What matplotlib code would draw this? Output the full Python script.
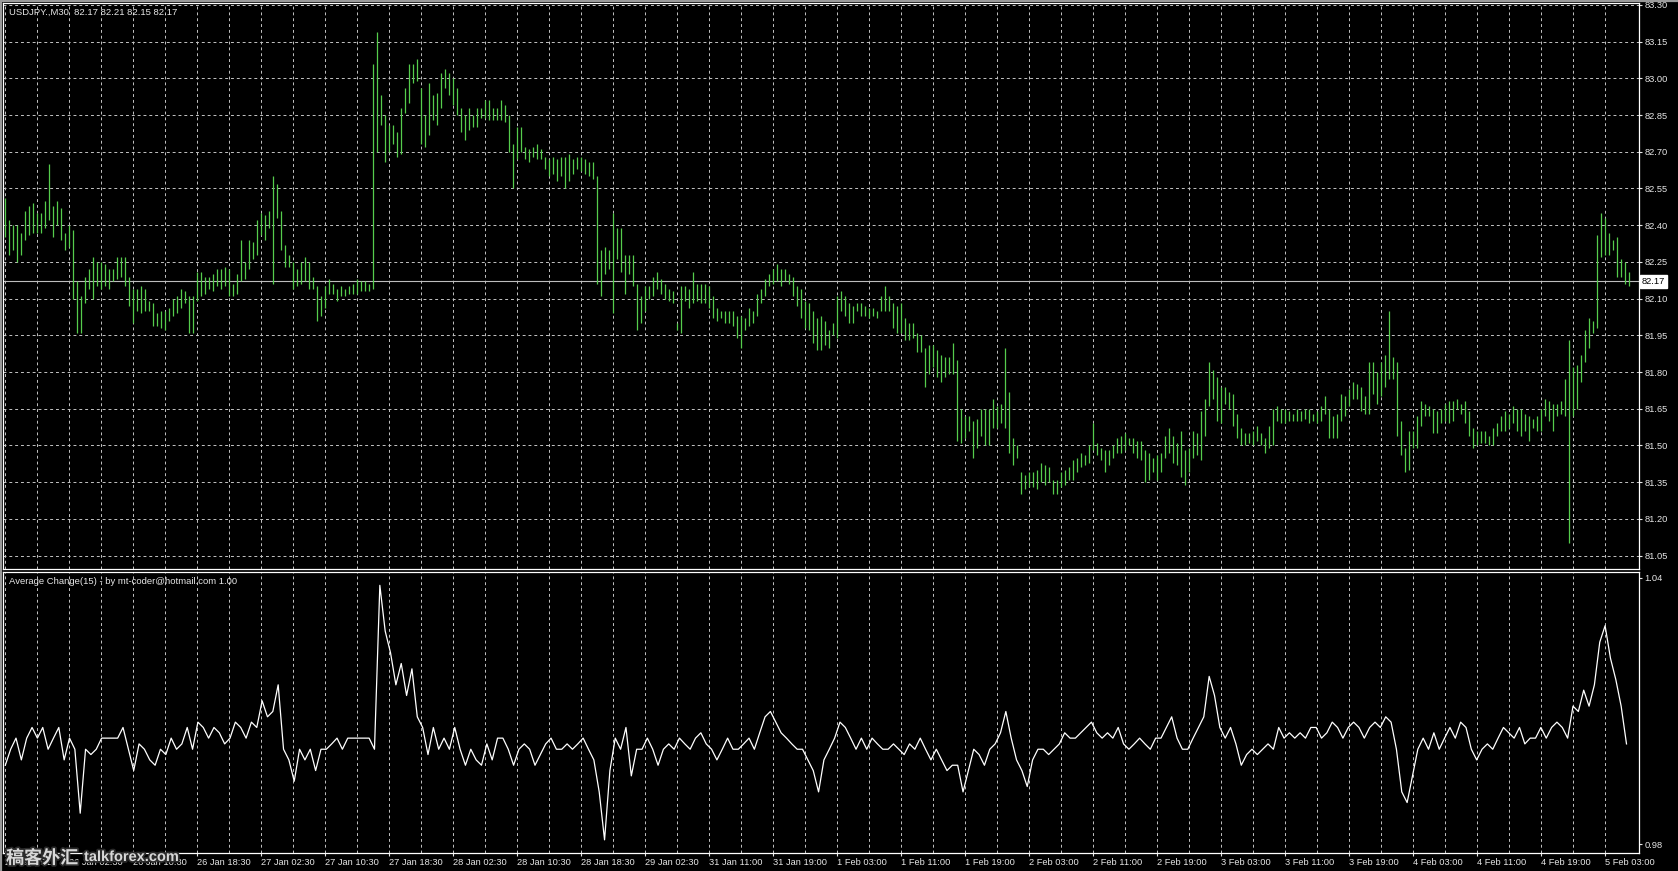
import numpy as np
import matplotlib.pyplot as plt
import matplotlib.patheffects as pe
from matplotlib.transforms import blended_transform_factory
from matplotlib.lines import Line2D

# USDJPY., M30 bar chart + "Average Change(15)" sub window (MetaTrader 4)
# high / low of each bar in pips above 81.00
BASE = 81.00

bars_jan25 = [  # bars 0-101
    (151,135),(142,128),(140,130),(140,125),(137,128),
    (146,134),(148,136),(149,137),(145,137),(145,137),
    (150,139),(165,142),(148,135),(150,140),(147,134),
    (137,130),(140,131),(138,110),(117,96),(111,96),
    (119,108),(122,114),(127,110),(125,115),(125,114),
    (124,115),(122,114),(122,117),(127,118),(127,119),
    (127,115),(119,107),(114,100),(114,105),(115,104),
    (114,105),(109,105),(108,99),(104,99),(105,98),
    (105,97),(106,101),(110,103),(111,104),(114,106),
    (113,108),(111,96),(111,96),(121,109),(121,111),
    (119,112),(119,114),(120,113),(122,115),(122,114),
    (123,115),(122,111),(116,111),(120,112),(134,117),
    (125,118),(134,122),(133,126),(142,128),(145,136),
    (144,134),(146,139),(160,116),(157,143),(146,130),
    (132,123),(128,123),(125,114),(122,115),(125,116),
    (127,117),(125,114),(119,114),(115,101),(111,103),
    (115,106),(118,112),(116,112),(114,109),(115,111),
    (114,111),(115,112),(116,112),(118,112),(117,113),
    (117,113),(116,113),(206,114),(219,170),(193,181),
    (185,166),(181,170),(181,173),(178,168),(188,169),
    (196,186),(206,190)]

bars_jan28 = [  # bars 102-203
    (206,198),(208,199),(196,173),(185,172),(198,177),
    (193,183),(194,181),(202,188),(204,196),(202,193),
    (200,189),(196,185),(188,178),(185,175),(188,179),
    (185,180),(188,180),(188,184),(191,184),(191,183),
    (188,183),(188,183),(191,183),(189,182),(185,170),
    (173,155),(180,167),(180,170),(172,167),(171,166),
    (172,168),(173,167),(171,167),(168,163),(167,160),
    (168,161),(167,158),(168,160),(168,155),(169,158),
    (167,161),(168,163),(168,162),(167,161),(166,160),
    (166,159),(160,116),(130,111),(131,120),(130,122),
    (145,104),(139,126),(139,121),(128,112),(128,120),
    (128,115),(116,97),(111,100),(115,105),(115,110),
    (119,111),(121,114),(118,112),(116,110),(114,109),
    (113,108),(100,97),(115,96),(115,109),(114,106),
    (121,108),(116,109),(116,108),(116,108),(115,106),
    (111,102),(106,101),(105,102),(105,100),(105,100),
    (105,99),(103,94),(103,90),(102,97),(106,99),
    (105,100),(112,103),(114,108),(118,111),(120,115),
    (122,116),(124,117),(122,115),(122,117),(120,116),
    (119,111),(115,107),(114,102),(109,98),(108,97),
    (105,92),(102,89)]

bars_feb01 = [  # bars 204-306
    (103,89),(101,91),(97,90),(100,95),(111,94),
    (113,105),(111,103),(108,100),(107,100),(108,105),
    (108,103),(107,103),(106,102),(106,103),(105,102),
    (111,105),(115,105),(111,105),(108,98),(107,96),
    (108,96),(102,93),(100,93),(100,94),(96,88),
    (95,88),(90,74),(91,79),(91,82),(89,78),
    (87,76),(86,78),(86,79),(92,79),(85,52),
    (65,51),(62,53),(62,56),(60,45),(61,49),
    (65,54),(65,50),(65,50),(69,57),(66,57),
    (67,59),(90,57),(72,47),(53,42),(50,45),
    (39,30),(38,32),(39,33),(39,33),(40,32),
    (43,35),(42,34),(41,35),(36,30),(36,30),
    (39,33),(40,34),(41,36),(44,36),(45,39),
    (47,41),(46,42),(50,43),(59,48),(51,46),
    (49,44),(48,39),(48,42),(50,45),(53,47),
    (54,47),(55,48),(53,50),(53,47),(52,45),
    (52,44),(48,35),(47,36),(45,39),(46,36),
    (47,39),(54,45),(57,47),(54,43),(51,42),
    (56,37),(48,34),(49,39),(56,45),(55,46),
    (64,44),(69,54),(84,66),(81,69),(78,60),
    (74,59),(74,67),(72,65)]

bars_feb03 = [  # bars 307-406
    (71,58),(63,53),(57,50),(55,50),(55,51),
    (56,50),(58,52),(55,50),(53,47),(58,49),
    (65,50),(66,60),(65,59),(65,59),(64,60),
    (63,60),(65,60),(64,60),(65,61),(65,59),
    (63,60),(64,59),(66,60),(70,63),(65,53),
    (62,53),(63,53),(71,60),(70,62),(73,66),
    (76,69),(75,69),(74,64),(70,63),(84,63),
    (84,71),(80,67),(84,70),(87,74),(105,77),
    (86,77),(84,54),(60,46),(49,39),(56,40),
    (56,49),(62,49),(68,58),(67,62),(66,62),
    (65,55),(64,55),(65,59),(67,60),(68,59),
    (68,60),(69,65),(67,63),(68,59),(64,54),
    (57,49),(56,50),(56,51),(56,51),(54,50),
    (57,50),(59,54),(62,56),(64,56),(63,57),
    (66,59),(65,56),(65,54),(63,56),(62,52),
    (61,57),(62,56),(65,56),(69,62),(68,60),
    (67,56),(67,62),(68,63),(77,62),(93,10),
    (82,62),(83,65),(87,76),(97,84),(102,90),
    (101,96),(136,98),(145,127),(143,128),(137,128),
    (134,130),(135,119),(126,119),(125,116),(121,115)]

last_ohlc = [82.17, 82.21, 82.15, 82.17]

# Average Change(15) readings, evenly spaced from the first to the last bar
avg_change = [
    0.9978,1.0014,1.0039,0.9990,1.0039,1.0063,1.0039,1.0063,1.0014,1.0039,
    1.0063,0.9990,1.0039,1.0014,0.9870,1.0014,1.0002,1.0014,1.0039,1.0039,
    1.0039,1.0039,1.0063,1.0014,0.9966,1.0026,1.0014,0.9990,0.9978,1.0014,
    1.0002,1.0039,1.0014,1.0026,1.0063,1.0014,1.0075,1.0063,1.0039,1.0063,
    1.0051,1.0026,1.0039,1.0075,1.0063,1.0039,1.0075,1.0063,1.0123,1.0087,
    1.0099,1.0159,1.0014,0.9990,0.9942,1.0014,0.9990,1.0014,0.9966,1.0014,
    1.0014,1.0026,1.0039,1.0014,1.0039,1.0039,1.0039,1.0039,1.0039,1.0014,
    1.0383,1.0280,1.0231,1.0159,1.0207,1.0135,1.0195,1.0087,1.0063,1.0002,
    1.0063,1.0014,1.0039,1.0014,1.0063,1.0014,0.9978,1.0014,0.9990,0.9978,
    1.0026,0.9990,1.0039,1.0039,1.0014,0.9978,1.0014,1.0026,1.0014,0.9978,
    1.0002,1.0026,1.0039,1.0014,1.0014,1.0026,1.0014,1.0026,1.0039,1.0014,
    0.9990,0.9918,0.9810,0.9966,1.0039,1.0014,1.0063,0.9954,1.0014,1.0014,
    1.0039,1.0014,0.9978,1.0014,1.0026,1.0014,1.0039,1.0026,1.0014,1.0039,
    1.0051,1.0026,1.0014,0.9990,1.0014,1.0039,1.0014,1.0014,1.0026,1.0039,
    1.0014,1.0051,1.0087,1.0099,1.0075,1.0051,1.0039,1.0026,1.0014,1.0014,
    0.9990,0.9966,0.9918,0.9990,1.0014,1.0039,1.0075,1.0063,1.0039,1.0014,
    1.0039,1.0014,1.0039,1.0026,1.0014,1.0014,1.0026,1.0014,1.0002,1.0026,
    1.0014,1.0039,1.0014,0.9990,1.0014,0.9990,0.9966,0.9978,0.9978,0.9918,
    0.9966,1.0014,1.0002,0.9978,1.0014,1.0026,1.0051,1.0099,1.0039,0.9990,
    0.9966,0.9930,0.9990,1.0014,1.0014,1.0002,1.0014,1.0026,1.0051,1.0039,
    1.0039,1.0051,1.0063,1.0075,1.0051,1.0039,1.0051,1.0039,1.0063,1.0026,
    1.0014,1.0026,1.0039,1.0026,1.0014,1.0039,1.0039,1.0063,1.0087,1.0039,
    1.0014,1.0014,1.0039,1.0063,1.0087,1.0178,1.0135,1.0063,1.0039,1.0063,
    1.0026,0.9978,1.0002,1.0014,1.0002,1.0014,1.0026,1.0014,1.0063,1.0039,
    1.0051,1.0039,1.0051,1.0039,1.0063,1.0063,1.0039,1.0051,1.0075,1.0063,
    1.0039,1.0063,1.0075,1.0063,1.0039,1.0063,1.0075,1.0063,1.0087,1.0075,
    1.0014,0.9918,0.9894,0.9954,1.0014,1.0039,1.0014,1.0051,1.0014,1.0039,
    1.0063,1.0039,1.0075,1.0063,1.0014,0.9990,1.0014,1.0026,1.0014,1.0039,
    1.0063,1.0051,1.0039,1.0063,1.0026,1.0039,1.0039,1.0063,1.0039,1.0063,
    1.0075,1.0063,1.0039,1.0111,1.0099,1.0147,1.0111,1.0159,1.0255,1.0292,
    1.0219,1.0171,1.0111,1.0026]

date_labels = ['25 Jan 2011', '26 Jan 02:30', '26 Jan 10:30', '26 Jan 18:30',
               '27 Jan 02:30', '27 Jan 10:30', '27 Jan 18:30', '28 Jan 02:30',
               '28 Jan 10:30', '28 Jan 18:30', '29 Jan 02:30', '31 Jan 11:00',
               '31 Jan 19:00', '1 Feb 03:00', '1 Feb 11:00', '1 Feb 19:00',
               '2 Feb 03:00', '2 Feb 11:00', '2 Feb 19:00', '3 Feb 03:00',
               '3 Feb 11:00', '3 Feb 19:00', '4 Feb 03:00', '4 Feb 11:00',
               '4 Feb 19:00', '5 Feb 03:00']
price_ticks = [81.05, 81.20, 81.35, 81.50, 81.65, 81.80, 81.95, 82.10,
               82.25, 82.40, 82.55, 82.70, 82.85, 83.00, 83.15, 83.30]
ind_ticks = [0.98, 1.04]

hl = np.array(bars_jan25 + bars_jan28 + bars_feb01 + bars_feb03)
highs = BASE + hl[:, 0] / 100.0
lows = BASE + hl[:, 1] / 100.0
n = len(hl)
idx = np.arange(n)

plt.rcParams['font.family'] = ['Liberation Sans', 'DejaVu Sans']
GREEN = '#55cc4c'
FG = '#e6e6e6'
W, H = 1678, 871

def box(l, t, r, b):
    return [l / W, 1 - b / H, (r - l) / W, (b - t) / H]

fig = plt.figure(figsize=(W / 100, H / 100), dpi=100, facecolor='black')
ax = fig.add_axes(box(3, 3, 1639, 569), facecolor='black')
ax2 = fig.add_axes(box(3, 572, 1639, 853), facecolor='black')

xlim = (-0.575, 408.425)
grid_kw = dict(color='#c4c4c4', lw=0.7, ls=(0, (3, 3)), zorder=1)

# --- price window
for g in range(0, n, 8):
    ax.axvline(g, **grid_kw)
for p in price_ticks:
    ax.axhline(p, **grid_kw)
ax.axhline(last_ohlc[3], color='#bdbdbd', lw=0.8, zorder=2)
ax.vlines(idx, lows, highs, color=GREEN, lw=0.9, zorder=3)
ax.set_xlim(*xlim)
ax.set_ylim(80.995, 83.308)
ax.set_xticks([])
ax.yaxis.tick_right()
ax.set_yticks(price_ticks, [f'{p:.2f}' for p in price_ticks])
ax.tick_params(axis='y', colors=FG, labelsize=6.7, length=2.2, width=0.8, pad=1.5)
tr = blended_transform_factory(ax.transAxes, ax.transData)
ax.text(1.0015, last_ohlc[3], f'{last_ohlc[3]:.2f}', transform=tr, ha='left', va='center',
        fontsize=6.7, color='black', clip_on=False,
        bbox=dict(boxstyle='square,pad=0.2', fc='white', ec='white'))

# --- indicator window
for g in range(0, n, 8):
    ax2.axvline(g, **grid_kw)
pos = np.linspace(0, n - 1.7, len(avg_change))
ax2.plot(pos, avg_change, color='white', lw=0.9, zorder=3)
ax2.set_xlim(*xlim)
ax2.set_ylim(0.97804, 1.0413)
ax2.yaxis.tick_right()
ax2.set_yticks(ind_ticks, [f'{v:.2f}' for v in ind_ticks])
ax2.tick_params(axis='y', colors=FG, labelsize=6.7, length=2.2, width=0.8, pad=1.5)
ax2.set_xticks(np.arange(len(date_labels)) * 16, date_labels)
ax2.tick_params(axis='x', colors=FG, labelsize=6.7, length=2.2, width=0.8, pad=1.2)
for t in ax2.get_xticklabels():
    t.set_horizontalalignment('left')

for a in (ax, ax2):
    for s in a.spines.values():
        s.set_color('white')
        s.set_linewidth(0.9)

fig.text(9 / W, 1 - 12 / H, 'USDJPY.,M30  ' + ' '.join(f'{v:.2f}' for v in last_ohlc),
         color=FG, fontsize=6.8, va='center', ha='left')
fig.text(9 / W, 1 - 582 / H, 'Average Change(15) - by mt-coder@hotmail.com 1.00',
         color=FG, fontsize=6.8, va='center', ha='left')

# window frame
fig.add_artist(Line2D([0, 1], [1 - 0.8 / H, 1 - 0.8 / H], color='#9a9a9a', lw=1.6))
fig.add_artist(Line2D([0.8 / W, 0.8 / W], [0, 1], color='#9a9a9a', lw=1.6))

# watermark
halo = [pe.withStroke(linewidth=2.5, foreground='#2a2a2a')]
fig.text(6 / W, 1 - 858 / H, '稿客外汇', family=['Noto Sans CJK SC', 'DejaVu Sans'],
         fontsize=13, weight='bold', color='#d8d8d8', va='center', ha='left', path_effects=halo)
fig.text(84 / W, 1 - 857 / H, 'talkforex.com', fontsize=10.5, weight='bold',
         color='#d8d8d8', va='center', ha='left', path_effects=halo)

fig.savefig('out.png', dpi=100, facecolor='black')
